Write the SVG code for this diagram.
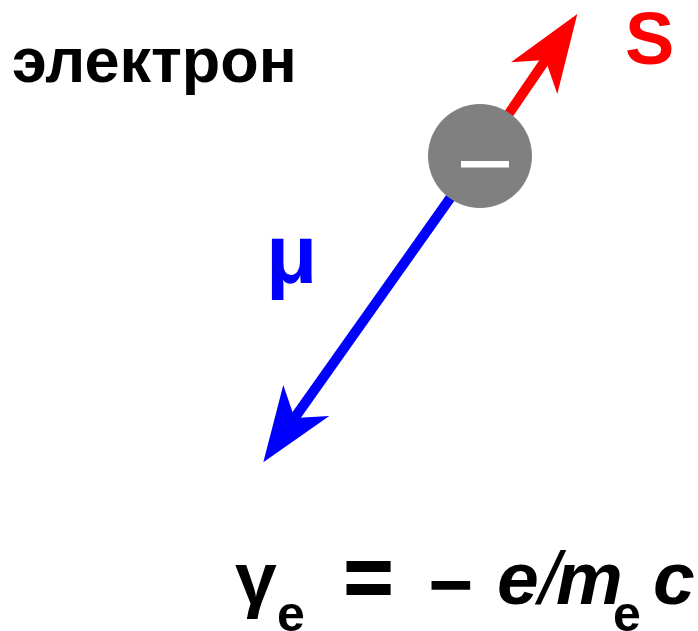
<svg xmlns="http://www.w3.org/2000/svg" width="698" height="631" viewBox="0 0 698 631">
<style>
.t{font-family:"Liberation Sans",Arial,sans-serif;font-weight:bold}
.it{font-style:italic}
</style>
<rect width="698" height="631" fill="#fff"/>
<g id="connectors">
<g id="spin-arrow">
<line x1="480" y1="156" x2="545.5" y2="60" stroke="#f00" stroke-width="10"/>
<polygon points="577.3,14 511,62.3 545.5,60 557.3,94" fill="#f00"/>
</g>
<g id="moment-arrow">
<line x1="480" y1="156" x2="294.5" y2="418" stroke="#00f" stroke-width="10"/>
<polygon points="263.3,462.3 283.3,385 294.5,418 329.3,416" fill="#00f"/>
</g>
</g>
<g id="electron">
<circle cx="480" cy="156" r="52" fill="#808080"/>
<rect x="461" y="161" width="48" height="6.5" fill="#fff"/>
</g>
<g id="label-electron"><text class="t" x="12" y="82" font-size="63" fill="#000">электрон</text></g>
<g id="label-S"><text class="t" x="625" y="64" font-size="74" fill="#f00">S</text></g>
<g id="label-mu"><text class="t" x="266" y="283" font-size="84" fill="#00f">μ</text></g>
<g id="formula">
<text class="t" font-size="75" fill="#000">
<tspan x="235" y="604">γ</tspan><tspan x="277" y="631" font-size="50">e</tspan>
</text>
<text class="t" x="344" y="606" font-size="84" fill="#000" stroke="#000" stroke-width="2">=</text>
<text class="t" x="430" y="605" font-size="75" fill="#000" stroke="#000" stroke-width="1.5">–</text>
<text class="t it" font-size="75" fill="#000">
<tspan x="497" y="604">e</tspan><tspan x="539" y="604" font-weight="normal">/</tspan><tspan x="556" y="604">m</tspan>
</text>
<text class="t" x="613" y="631" font-size="50" fill="#000">e</text>
<text class="t it" x="653" y="604" font-size="75" fill="#000">c</text>
</g>
</svg>
